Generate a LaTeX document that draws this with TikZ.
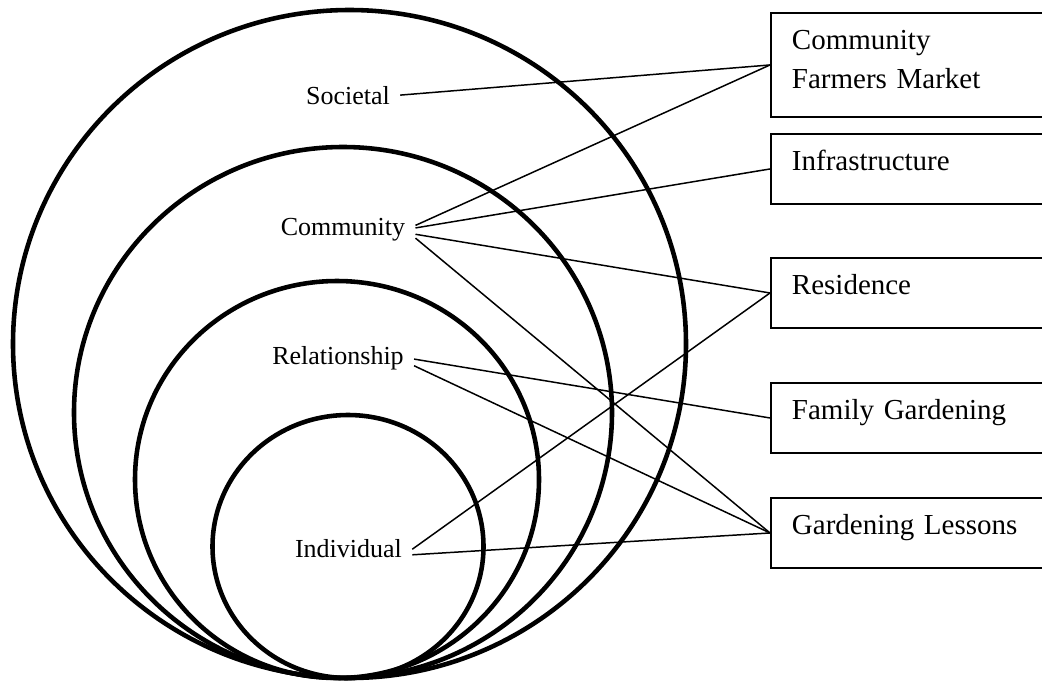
\documentclass[tikz,border=0pt]{standalone}
\usepackage{fontspec}
\setmainfont{Liberation Serif}
\usepackage{tikz}

\tikzset{
  ring/.style={line width=2.6pt},
  link/.style={line width=0.85pt},
  level/.style={anchor=base, inner xsep=0.2cm, inner ysep=2pt,
    font=\fontsize{14.8pt}{17pt}\selectfont},
  actbox/.style={draw, line width=1.1pt, anchor=north west,
    text width=4.76cm, align=left, inner xsep=0.42cm, inner ysep=0pt,
    text height=0.74cm, text depth=0.66cm,
    font=\fontsize{16.5pt}{22.2pt}\selectfont}
}

\begin{document}
\begin{tikzpicture}[x=0.02cm, y=-0.02cm]

\useasboundingbox (0,0) rectangle (1042,684);

% Draw the nested rings, all touching at the bottom
\draw [ring] (349.5,344) ellipse [x radius=336.5, y radius=334];
\draw [ring] (343,412.5) ellipse [x radius=269, y radius=265.5];
\draw [ring] (337,479.5) ellipse [x radius=202, y radius=198.5];
\draw [ring] (348,546.5) ellipse [x radius=135.5, y radius=131.5];

% Level names
\node [level] (soc) at (348,104) {Societal};
\node [level] (comm) at (343,235) {Community};
\node [level] (rel) at (338,364) {Relationship};
\node [level] (ind) at (348.5,557) {Individual};

% Activity boxes
\node [actbox, text depth=1.34cm] (market) at (770,12) {Community\\Farmers Market};
\node [actbox] (infra) at (770,133) {Infrastructure};
\node [actbox] (resid) at (770,257) {Residence};
\node [actbox] (family) at (770,382) {Family Gardening};
\node [actbox] (lessons) at (770,497) {Gardening Lessons};

% Links from levels to activities
\draw [link] (soc.east) -- (market.west);
\draw [link] (comm.3) -- (market.west);
\draw [link] (comm.1) -- (infra.west);
\draw [link] (comm.-4) -- (resid.west);
\draw [link] (comm.-7) -- (lessons.west);
\draw [link] (rel.-1) -- (family.west);
\draw [link] (rel.-6) -- (lessons.west);
\draw [link] (ind.-1) -- (resid.west);
\draw [link] (ind.-6) -- (lessons.west);

\end{tikzpicture}
\end{document}
